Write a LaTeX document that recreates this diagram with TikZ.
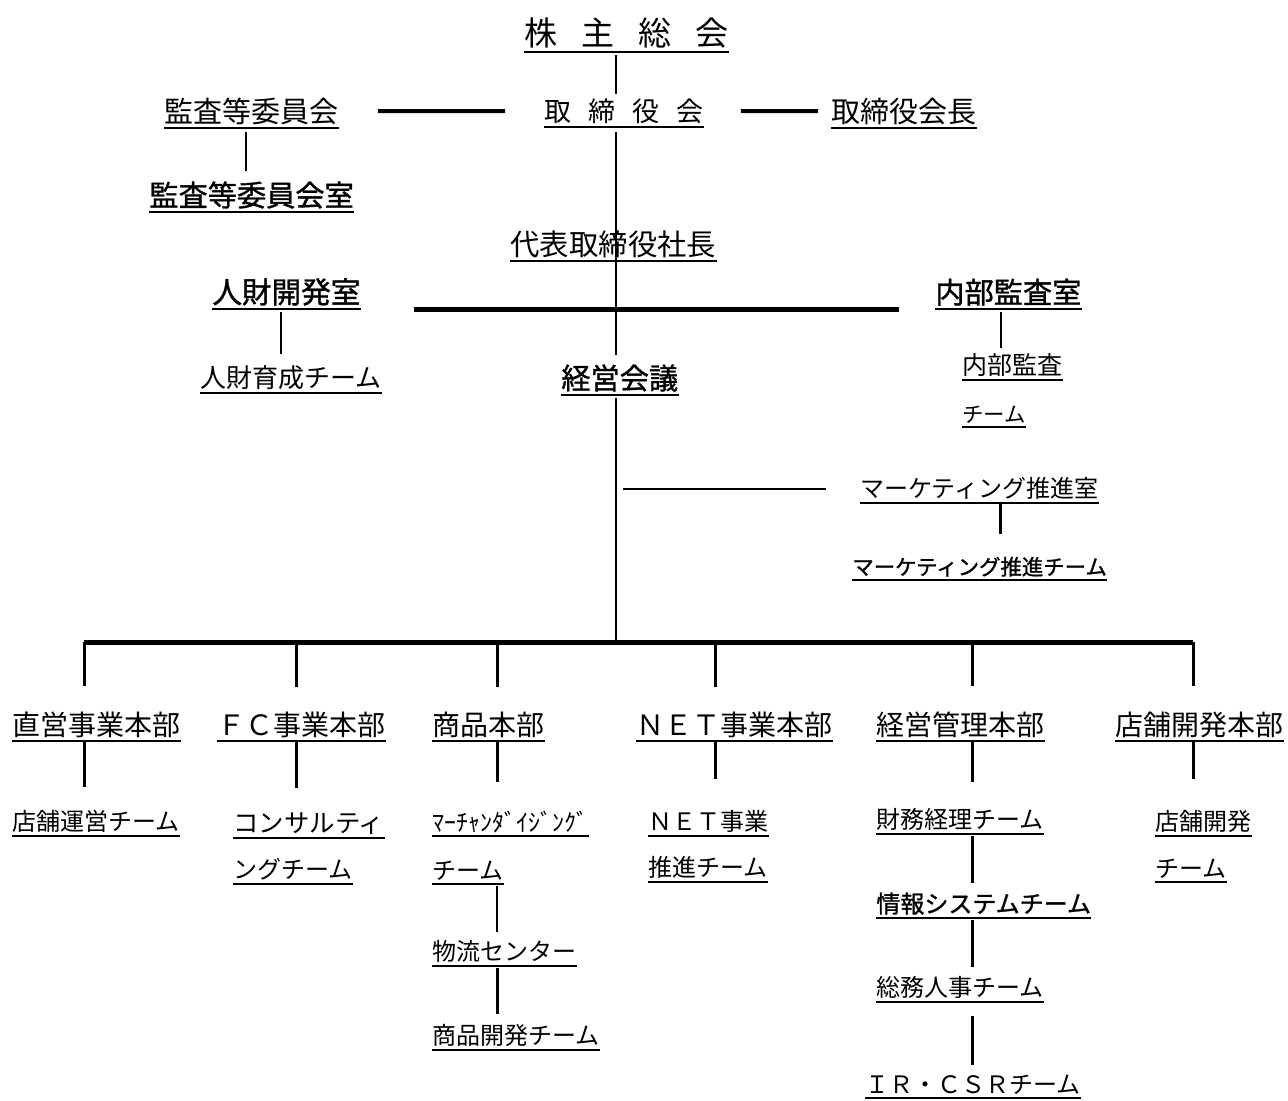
\documentclass[tikz,border=0pt]{standalone}
\usepackage{fontspec}
\setmainfont{Noto Sans CJK JP}
\newfontfamily\jb{Noto Sans CJK JP}[FakeBold=1.2]
\newcommand\jfs[1]{\fontsize{#1}{#1}\selectfont}
\begin{document}
\begin{tikzpicture}[x=0.5pt,y=-0.5pt,
  uline/.style={draw,line width=1.2pt},
  ul/.style={append after command={(\tikzlastnode.south west) edge[uline] (\tikzlastnode.south east)}},
  lab/.style={anchor=south west,inner xsep=0pt,inner ysep=1.5pt,ul},
  ln/.style={line width=1pt},
  lnm/.style={line width=1.5pt},
  lnt/.style={line width=2pt},
  lnb/.style={line width=2.5pt}]
\useasboundingbox (0,0) rectangle (1288,1100);
% nodes
\node[lab,font=\jfs{16.5pt}] (kabu) at (524,52) {株\hspace{12pt}主\hspace{12pt}総\hspace{12pt}会};
\node[lab,font=\jfs{13.5pt}] (torikai) at (544,127) {取\hspace{8.5pt}締\hspace{8.5pt}役\hspace{8.5pt}会};
\node[lab,font=\jfs{14.5pt}] (kansa) at (164,128) {監査等委員会};
\node[lab,font=\jfs{14.5pt}] (kaichou) at (831,128) {取締役会長};
\node[lab,font=\jb\jfs{14.6pt}] (kansashitsu) at (149,212) {監査等委員会室};
\node[lab,font=\jfs{14.7pt}] (shachou) at (510,261) {代表取締役社長};
\node[lab,font=\jb\jfs{14.8pt}] (jinzai) at (212,309) {人財開発室};
\node[lab,font=\jb\jfs{14.6pt}] (naibu) at (935,309) {内部監査室};
\node[lab,font=\jfs{13pt}] (ikusei) at (200,393) {人財育成チーム};
\node[lab,font=\jb\jfs{14.6pt}] (keiei) at (561,395) {経営会議};
\node[lab,font=\jfs{12.5pt}] (naibuA) at (962,380) {内部監査};
\node[lab,font=\jfs{10.7pt}] (naibuB) at (962,427) {チーム};
\node[lab,font=\jfs{12pt}] (mktg) at (860,503) {マーケティング推進室};
\node[lab,font=\jb\jfs{10.7pt}] (mktgT) at (852,580) {マーケティング推進チーム};
\node[lab,font=\jfs{14pt}] (chokuei) at (12,741) {直営事業本部};
\node[lab,font=\jfs{14pt}] (fc) at (217,741) {ＦＣ事業本部};
\node[lab,font=\jfs{14pt}] (shohin) at (432,741) {商品本部};
\node[lab,font=\jfs{14pt}] (net) at (636,741) {ＮＥＴ事業本部};
\node[lab,font=\jfs{14pt}] (kanri) at (876,741) {経営管理本部};
\node[lab,font=\jfs{14pt}] (tenpo) at (1115,741) {店舗開発本部};
\node[lab,font=\jfs{12pt}] (unei) at (12,836) {店舗運営チーム};
\node[lab,font=\jfs{12.7pt}] (consulA) at (233,838) {コンサルティ};
\node[lab,font=\jfs{12pt}] (consulB) at (233,884) {ングチーム};
\node[lab,font=\jfs{12pt}] (mdseA) at (432,836) {ﾏｰﾁｬﾝﾀﾞｲｼﾞﾝｸﾞ};
\node[lab,font=\jfs{12pt}] (mdseB) at (432,884) {チーム};
\node[lab,font=\jfs{12pt}] (netA) at (648,836) {ＮＥＴ事業};
\node[lab,font=\jfs{12pt}] (netB) at (648,882) {推進チーム};
\node[lab,font=\jfs{12pt}] (zaimu) at (876,834) {財務経理チーム};
\node[lab,font=\jfs{12pt}] (tkA) at (1155,836) {店舗開発};
\node[lab,font=\jfs{12pt}] (tkB) at (1155,882) {チーム};
\node[lab,font=\jfs{12pt}] (butsuryu) at (432,966) {物流センター};
\node[lab,font=\jfs{12pt}] (shkai) at (432,1050) {商品開発チーム};
\node[lab,font=\jb\jfs{12pt}] (joho) at (876,918) {情報システムチーム};
\node[lab,font=\jfs{12pt}] (somu) at (876,1002) {総務人事チーム};
\node[lab,font=\jfs{12pt}] (ir) at (865,1098) {ＩＲ・ＣＳＲチーム};
% coordinates
\coordinate (xT) at (616,0);
\coordinate (xK) at (246,0);
\coordinate (xJ) at (281,0);
\coordinate (xN) at (1001,0);
\coordinate (xM) at (1000,0);
\coordinate (busL) at (84,642);
\coordinate (busR) at (1193,642);
\coordinate (busT) at (616,642);
\coordinate (b1) at (84,642);
\coordinate (b2) at (296,642);
\coordinate (b3) at (497,642);
\coordinate (b4) at (715,642);
\coordinate (b5) at (972,642);
\coordinate (b6) at (1193,642);
% connectors
\draw[ln,shorten <=1.5pt,shorten >=0.85pt] (kabu.south -| xT) -- (torikai.north -| xT);
\draw[ln,shorten <=2.5pt,shorten >=2.9pt] (torikai.south -| xT) -- (shachou.south -| xT) -- (keiei.north -| xT);
\draw[lnt,shorten <=19.5pt,shorten >=19.5pt] (kansa.east) -- (torikai.west);
\draw[lnt,shorten <=18.5pt,shorten >=6.5pt] (torikai.east) -- (kaichou.west);
\draw[ln,shorten <=2pt,shorten >=3.8pt] (kansa.south -| xK) -- (kansashitsu.north -| xK);
\draw[lnb,shorten <=26.5pt,shorten >=18pt] (jinzai.south east) -- (naibu.south west);
\draw[ln,shorten <=1.5pt,shorten >=3.8pt] (jinzai.south -| xJ) -- (ikusei.north -| xJ);
\draw[ln,shorten <=1.5pt,shorten >=1pt] (naibu.south -| xN) -- (naibuA.north -| xN);
\draw[ln,shorten <=1.5pt] (keiei.south -| xT) -- (busT);
\draw[ln,shorten <=3.5pt,shorten >=17pt] (mktg.west -| xT) -- (mktg.west);
\draw[lnm,shorten >=9.9pt] (mktg.south -| xM) -- (mktgT.north -| xM);
\draw[lnb] (busL) -- (busR);
\draw[lnm,shorten >=10.9pt] (b1) -- (chokuei.north -| b1);
\draw[lnm,shorten >=10.9pt] (b2) -- (fc.north -| b2);
\draw[lnm,shorten >=10.9pt] (b3) -- (shohin.north -| b3);
\draw[lnm,shorten >=10.9pt] (b4) -- (net.north -| b4);
\draw[lnm,shorten >=10.9pt] (b5) -- (kanri.north -| b5);
\draw[lnm,shorten >=10.9pt] (b6) -- (tenpo.north -| b6);
\draw[lnm,shorten <=0.5pt,shorten >=10.2pt] (chokuei.south -| b1) -- (unei.north -| b1);
\draw[lnm,shorten <=0.5pt,shorten >=10.5pt] (fc.south -| b2) -- (consulA.north -| b2);
\draw[lnm,shorten <=0.5pt,shorten >=12.7pt] (shohin.south -| b3) -- (mdseA.north -| b3);
\draw[lnm,shorten <=0.5pt,shorten >=14.2pt] (net.south -| b4) -- (netA.north -| b4);
\draw[lnm,shorten <=0.5pt,shorten >=11.7pt] (kanri.south -| b5) -- (zaimu.north -| b5);
\draw[lnm,shorten <=0.5pt,shorten >=14.2pt] (tenpo.south -| b6) -- (tkA.north -| b6);
\draw[ln,shorten <=1pt,shorten >=2.7pt] (mdseB.south -| b3) -- (butsuryu.north -| b3);
\draw[lnm,shorten <=1pt,shorten >=3.7pt] (butsuryu.south -| b3) -- (shkai.north -| b3);
\draw[lnm,shorten <=1pt,shorten >=3.2pt] (zaimu.south -| b5) -- (joho.north -| b5);
\draw[lnm,shorten <=1pt,shorten >=3.2pt] (joho.south -| b5) -- (somu.north -| b5);
\draw[lnm,shorten <=7pt,shorten >=3.2pt] (somu.south -| b5) -- (ir.north -| b5);
\end{tikzpicture}
\end{document}
